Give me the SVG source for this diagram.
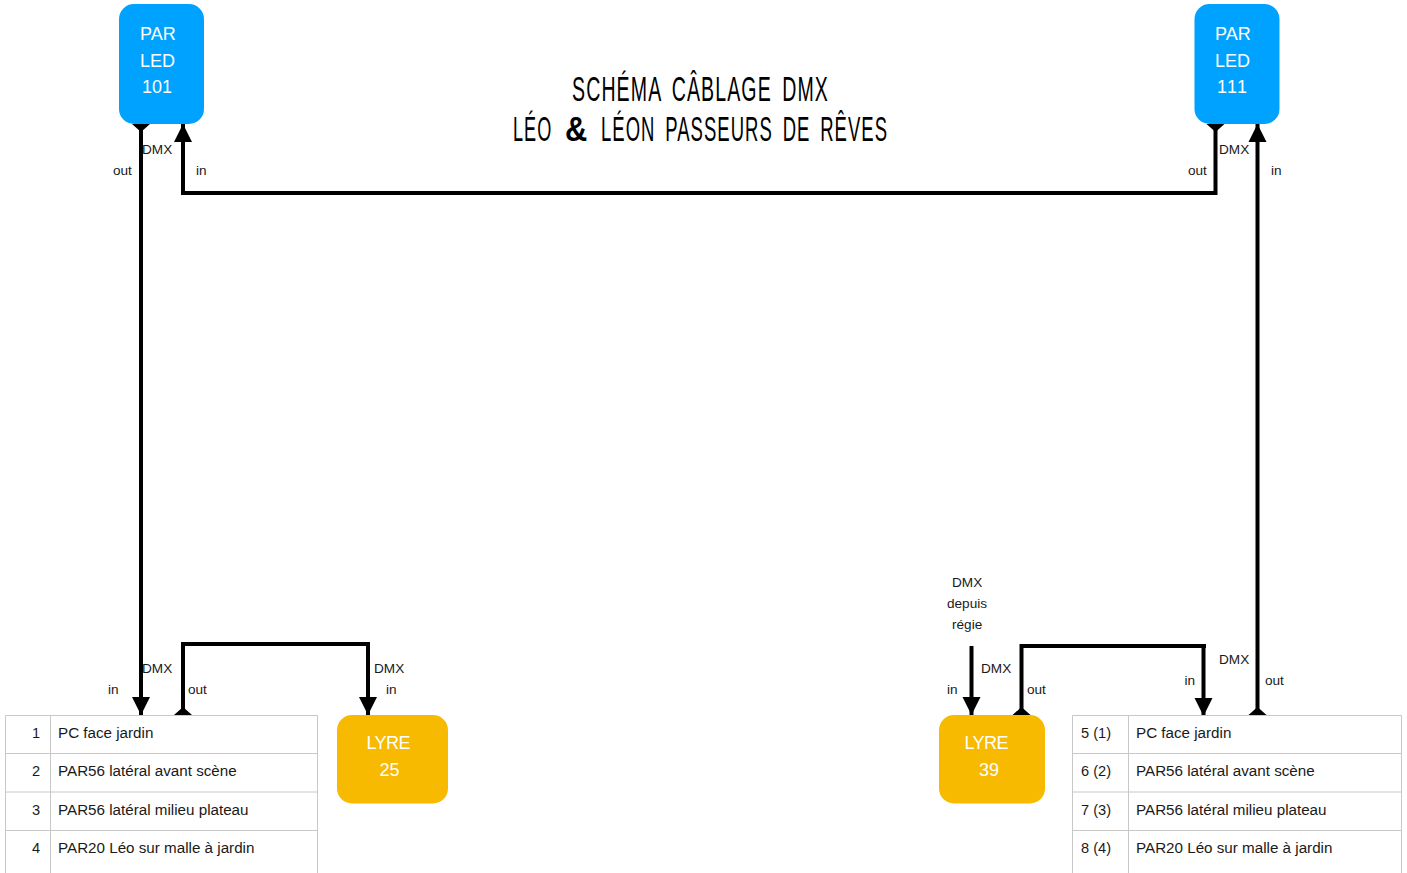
<svg xmlns="http://www.w3.org/2000/svg" width="1407" height="873" viewBox="0 0 1407 873">
<style>
text{font-family:"Liberation Sans",Arial,sans-serif;fill:#000}
.lbl{font-size:13.6px;fill:#1a1a1a}
.cell{font-size:15.2px;fill:#1a1a1a}
.num{font-size:14.6px}
.node{font-size:18px;fill:#fff}
.blue{fill:#00a2ff}
.orange{fill:#f8ba00}
.grid{fill:none;stroke:#c8c8c8;stroke-width:1}
.wire{fill:none;stroke:#000;stroke-width:4;stroke-linejoin:miter;marker-end:url(#head)}
.tailed{marker-start:url(#tail)}
.title{font-size:35.5px;letter-spacing:2px;word-spacing:7px;fill:#000}
.amp{font-weight:700}
</style>
<defs>
<marker id="head" markerUnits="userSpaceOnUse" viewBox="0 -9 18 18" refX="18" refY="0" markerWidth="18" markerHeight="18" orient="auto" overflow="visible"><path d="M0,-9L18,0L0,9Z" fill="#000"/></marker>
<marker id="tail" markerUnits="userSpaceOnUse" viewBox="0 -9 8 18" refX="0" refY="0" markerWidth="8" markerHeight="18" orient="auto" overflow="visible"><path d="M0,-9L8,0L0,9Z" fill="#000"/></marker>
</defs>
<g id="connectors">
<path class="wire tailed" d="M141,124V715"/>
<path class="wire tailed" d="M1215.5,124V193H183V124"/>
<path class="wire tailed" d="M1257.5,715V124"/>
<path class="wire tailed" d="M183,715V644H368V715"/>
<path class="wire" d="M971.5,646V715"/>
<path class="wire tailed" d="M1021.5,715V646H1203.5V716"/>
<path d="M1203,646H1206" fill="none" stroke="#000" stroke-width="4"/>
</g>
<g id="labels">
<text class="lbl" x="142" y="154">DMX</text><text class="lbl" x="113" y="175">out</text><text class="lbl" x="196" y="175">in</text>
<text class="lbl" x="1219" y="154">DMX</text><text class="lbl" x="1188" y="175">out</text><text class="lbl" x="1271" y="175">in</text>
<text class="lbl" x="142" y="673">DMX</text><text class="lbl" x="108" y="694">in</text><text class="lbl" x="188" y="694">out</text>
<text class="lbl" x="374" y="673">DMX</text><text class="lbl" x="386" y="694">in</text>
<text class="lbl" x="952" y="587">DMX</text><text class="lbl" x="947" y="608">depuis</text><text class="lbl" x="952" y="629">régie</text>
<text class="lbl" x="981" y="673">DMX</text><text class="lbl" x="947" y="694">in</text><text class="lbl" x="1027" y="694">out</text>
<text class="lbl" x="1184.5" y="685">in</text><text class="lbl" x="1219" y="664">DMX</text><text class="lbl" x="1265" y="685">out</text>
</g>
<g id="title">
<text class="title" x="572" y="100.5" textLength="257" lengthAdjust="spacingAndGlyphs">SCHÉMA CÂBLAGE DMX</text>
<text class="title" transform="translate(513,141) scale(0.51,1)">LÉO</text>
<text class="title amp" x="565" y="141" textLength="24" lengthAdjust="spacingAndGlyphs">&amp;</text>
<text class="title" x="601" y="141" textLength="287" lengthAdjust="spacingAndGlyphs">LÉON PASSEURS DE RÊVES</text>
</g>
<g id="par-led-101"><rect class="blue" x="119" y="4" width="85" height="120" rx="15"/><text class="node" x="140" y="39.5">PAR</text><text class="node" x="140" y="66.5">LED</text><text class="node" x="142" y="93">101</text></g>
<g id="par-led-111"><rect class="blue" x="1194.5" y="4" width="85" height="120" rx="15"/><text class="node" x="1215" y="39.5">PAR</text><text class="node" x="1215" y="66.5">LED</text><text class="node" x="1217" y="93" textLength="30">111</text></g>
<g id="lyre-25"><rect class="orange" x="337" y="715" width="111" height="88.5" rx="15"/><text class="node" x="366.5" y="749" textLength="44">LYRE</text><text class="node" x="379.5" y="776">25</text></g>
<g id="lyre-39"><rect class="orange" x="939" y="715" width="106" height="88.5" rx="15"/><text class="node" x="964.5" y="749" textLength="44">LYRE</text><text class="node" x="979" y="776">39</text></g>
<g id="table-left">
<path class="grid" d="M5.5,873V715.5H317.5V873M5,753.5H318M5,792H318M5,830.5H318M50.5,715V873"/>
<text class="cell num" x="32" y="738">1</text><text class="cell" x="58" y="738">PC face jardin</text>
<text class="cell num" x="32" y="776">2</text><text class="cell" x="58" y="776">PAR56 latéral avant scène</text>
<text class="cell num" x="32" y="815">3</text><text class="cell" x="58" y="815">PAR56 latéral milieu plateau</text>
<text class="cell num" x="32" y="853">4</text><text class="cell" x="58" y="853">PAR20 Léo sur malle à jardin</text>
</g>
<g id="table-right">
<path class="grid" d="M1072.5,873V715.5H1401.5V873M1072,753.5H1402M1072,792H1402M1072,830.5H1402M1128.5,715V873"/>
<text class="cell num" x="1081" y="738">5 (1)</text><text class="cell" x="1136" y="738">PC face jardin</text>
<text class="cell num" x="1081" y="776">6 (2)</text><text class="cell" x="1136" y="776">PAR56 latéral avant scène</text>
<text class="cell num" x="1081" y="815">7 (3)</text><text class="cell" x="1136" y="815">PAR56 latéral milieu plateau</text>
<text class="cell num" x="1081" y="853">8 (4)</text><text class="cell" x="1136" y="853">PAR20 Léo sur malle à jardin</text>
</g>
</svg>
